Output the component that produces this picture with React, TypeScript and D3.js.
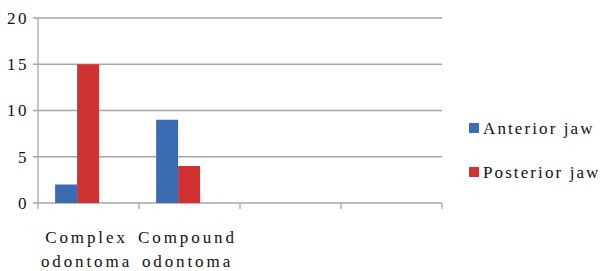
import * as d3 from "d3";

const categories = ["Complex odontoma", "Compound odontoma", "", ""];
const seriesNames = ["Anterior jaw", "Posterior jaw"];
const anteriorJaw = [2, 9, null, null];
const posteriorJaw = [15, 4, null, null];
const yTicks = [0, 5, 10, 15, 20];
const colors = ["#3a6bb3", "#d03232"];

const App = () => {
  const width = 605, height = 271;
  const left = 38, right = 442, top = 18, bottom = 203;
  const font = "'Times New Roman', Times, 'Liberation Serif', 'DejaVu Serif', 'Noto Serif', serif";

  const x = d3.scaleBand().domain(categories.map((d, i) => String(i))).range([left, right]);
  const y = d3.scaleLinear().domain([0, 20]).range([bottom, top]);
  // bars sit a little left of the category centre in the original
  const inner = d3.scaleBand().domain(seriesNames).range([0, x.bandwidth()])
    .paddingInner(0).paddingOuter(1.3).align(0.3);
  const series = [anteriorJaw, posteriorJaw];
  const txt = { fontFamily: font, fontSize: 17, fill: "#111" };

  return (
    <svg width={width} height={height} style={{ position: "absolute", left: 0, top: 0 }}>
      <rect width={width} height={height} fill="#fff" />
      {yTicks.map(t => (
        <g key={t}>
          <line x1={left - 5} x2={right} y1={y(t)} y2={y(t)} stroke="#a6a6a6" strokeWidth={1.3} />
          <text x={29} y={y(t)} dy="0.35em" textAnchor="end" style={{ ...txt, letterSpacing: 2.5 }}>{t}</text>
        </g>
      ))}
      <line x1={left} x2={left} y1={top} y2={bottom} stroke="#a6a6a6" strokeWidth={1.3} />
      {d3.range(categories.length + 1).map(i => {
        const xx = left + i * x.step();
        return <line key={i} x1={xx} x2={xx} y1={bottom} y2={bottom + 6} stroke="#a6a6a6" strokeWidth={1.3} />;
      })}
      {series.map((vals, s) =>
        vals.map((v, i) => v == null ? null : (
          <rect key={s + "-" + i}
            x={(x(String(i)) as number) + (inner(seriesNames[s]) as number)}
            y={y(v)} width={inner.bandwidth()} height={y(0) - y(v)} fill={colors[s]} />
        ))
      )}
      {categories.map((c, i) => {
        const cx = (x(String(i)) as number) + x.bandwidth() / 2 - 2;
        const lines = c ? c.split(" ") : [];
        return (
          <text key={i} textAnchor="middle" style={{ ...txt, letterSpacing: 2.9 }}>
            {lines.map((l, j) => <tspan key={j} x={cx} y={243 + j * 24}>{l}</tspan>)}
          </text>
        );
      })}
      {seriesNames.map((n, s) => (
        <g key={n} transform={`translate(469, ${123 + s * 44})`}>
          <rect width={10} height={10} fill={colors[s]} />
          <text x={14} y={11} style={{ ...txt, letterSpacing: 2.1 }}>{n}</text>
        </g>
      ))}
    </svg>
  );
};

export default App;
